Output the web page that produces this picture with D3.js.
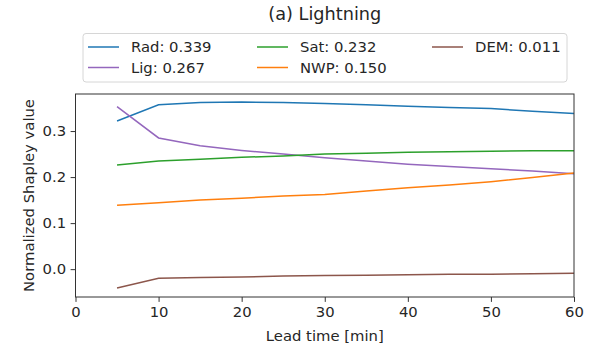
<!DOCTYPE html>
<html>
<head>
<meta charset="utf-8">
<script src="https://cdn.jsdelivr.net/npm/d3@7"></script>
<style>
  body { margin: 0; background: #fff; }
  svg { display: block; font-family: "DejaVu Sans", sans-serif; }
</style>
</head>
<body>
<svg id="chart"></svg>
<script>
const LEAD_TIMES = [5, 10, 15, 20, 25, 30, 35, 40, 45, 50, 55, 60];
const RAD = [0.322, 0.357, 0.362, 0.363, 0.362, 0.360, 0.357, 0.354, 0.351, 0.349, 0.343, 0.338];
const LIG = [0.353, 0.285, 0.268, 0.258, 0.250, 0.242, 0.235, 0.228, 0.223, 0.218, 0.213, 0.207];
const SAT = [0.226, 0.235, 0.239, 0.243, 0.246, 0.250, 0.252, 0.254, 0.255, 0.256, 0.257, 0.257];
const NWP = [0.139, 0.144, 0.150, 0.154, 0.159, 0.162, 0.170, 0.177, 0.183, 0.190, 0.199, 0.209];
const DEM = [-0.041, -0.020, -0.018, -0.017, -0.015, -0.014, -0.013, -0.012, -0.011, -0.011, -0.010, -0.009];
const SERIES_NAMES = ["Rad", "Lig", "Sat", "NWP", "DEM"];
const LEGEND_LABELS = ["Rad: 0.339", "Lig: 0.267", "Sat: 0.232", "NWP: 0.150", "DEM: 0.011"];
const X_TICKS = [0, 10, 20, 30, 40, 50, 60];
const Y_TICKS = [0.0, 0.1, 0.2, 0.3];

const WIDTH = 592;
const HEIGHT = 344;
const PLOT = { left: 75.5, right: 574, top: 94, bottom: 297 };
const COLOURS = ["#1f77b4", "#9467bd", "#2ca02c", "#ff7f0e", "#8c564b"];
const TEXT = "#262626";
const FONT = "14.8px";

let seriesValues = [RAD, LIG, SAT, NWP, DEM];
let series = SERIES_NAMES.map(function (name, i) {
    return {
        name: name,
        label: LEGEND_LABELS[i],
        colour: COLOURS[i],
        points: LEAD_TIMES.map(function (t, j) { return [t, seriesValues[i][j]]; })
    };
});

let xScale = d3.scaleLinear().domain([0, 60]).range([PLOT.left, PLOT.right]);
let yScale = d3.scaleLinear().domain([-0.0605, 0.3805]).range([PLOT.bottom, PLOT.top]);

let svg = d3.select("#chart").attr("width", WIDTH).attr("height", HEIGHT);

// title
svg.append("text")
    .attr("x", (PLOT.left + PLOT.right) / 2)
    .attr("y", 19.5)
    .attr("text-anchor", "middle")
    .attr("font-size", "17.7px")
    .attr("fill", TEXT)
    .text("(a) Lightning");

// lines
let line = d3.line()
    .x(function (d) { return xScale(d[0]); })
    .y(function (d) { return yScale(d[1]); });

svg.append("g").selectAll("path")
    .data(series)
    .enter()
    .append("path")
    .attr("d", function (d) { return line(d.points); })
    .attr("fill", "none")
    .attr("stroke", function (d) { return d.colour; })
    .attr("stroke-width", 1.5);

// axes
let xAxis = svg.append("g")
    .attr("transform", "translate(0," + PLOT.bottom + ")")
    .call(d3.axisBottom(xScale).tickValues(X_TICKS).tickFormat(d3.format("d")).tickSize(4.9).tickPadding(4.3));
let yAxis = svg.append("g")
    .attr("transform", "translate(" + PLOT.left + ",0)")
    .call(d3.axisLeft(yScale).tickValues(Y_TICKS).tickFormat(d3.format(".1f")).tickSize(4.9).tickPadding(4.5));

[xAxis, yAxis].forEach(function (ax) {
    ax.select(".domain").remove();
    ax.selectAll("line").attr("stroke", "#333").attr("stroke-width", 1);
    ax.selectAll("text")
        .attr("font-size", FONT)
        .attr("font-family", "DejaVu Sans, sans-serif")
        .attr("fill", TEXT);
});

// frame
svg.append("rect")
    .attr("x", PLOT.left)
    .attr("y", PLOT.top)
    .attr("width", PLOT.right - PLOT.left)
    .attr("height", PLOT.bottom - PLOT.top)
    .attr("fill", "none")
    .attr("stroke", "#333")
    .attr("stroke-width", 1);

// axis labels
svg.append("text")
    .attr("x", (PLOT.left + PLOT.right) / 2)
    .attr("y", 341)
    .attr("text-anchor", "middle")
    .attr("font-size", FONT)
    .attr("fill", TEXT)
    .text("Lead time [min]");

svg.append("text")
    .attr("transform", "translate(33.5," + (PLOT.top + PLOT.bottom) / 2 + ") rotate(-90)")
    .attr("text-anchor", "middle")
    .attr("font-size", FONT)
    .attr("fill", TEXT)
    .text("Normalized Shapley value");

// legend
let legendBox = { x: 83, y: 33.5, w: 484, h: 48.5 };
let legend = svg.append("g");
legend.append("rect")
    .attr("x", legendBox.x)
    .attr("y", legendBox.y)
    .attr("width", legendBox.w)
    .attr("height", legendBox.h)
    .attr("rx", 3)
    .attr("fill", "#fff")
    .attr("fill-opacity", 0.8)
    .attr("stroke", "#d6d6d6")
    .attr("stroke-width", 1);

let colX = [88, 257, 432];
let rowY = [47, 67.5];
let items = legend.selectAll("g.item")
    .data(series)
    .enter()
    .append("g")
    .attr("class", "item")
    .attr("transform", function (d, i) {
        return "translate(" + colX[Math.floor(i / 2)] + "," + rowY[i % 2] + ")";
    });
items.append("line")
    .attr("x1", 0).attr("x2", 31)
    .attr("y1", 0).attr("y2", 0)
    .attr("stroke", function (d) { return d.colour; })
    .attr("stroke-width", 1.5);
items.append("text")
    .attr("x", 43)
    .attr("y", 5.3)
    .attr("font-size", FONT)
    .attr("fill", TEXT)
    .text(function (d) { return d.label; });
</script>
</body>
</html>
